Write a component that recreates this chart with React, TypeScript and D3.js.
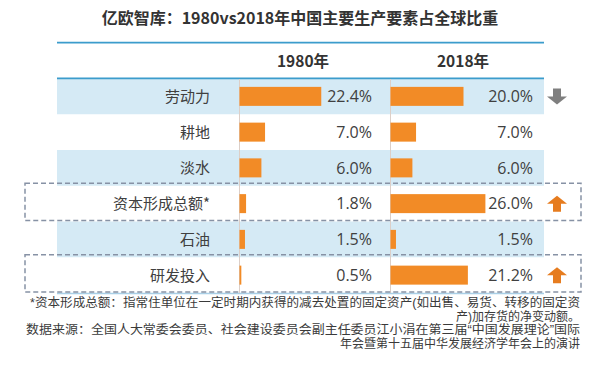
import React from "react";
import * as d3 from "d3";

// chart data
const categories = ["劳动力", "耕地", "淡水", "资本形成总额*", "石油", "研发投入"];
const years = ["1980年", "2018年"];
const share1980 = [22.4, 7.0, 6.0, 1.8, 1.5, 0.5];
const share2018 = [20.0, 7.0, 6.0, 26.0, 1.5, 21.2];
// change direction shown at the right of the row
const trend = ["down", "", "", "up", "", "up"];

const title = "亿欧智库：1980vs2018年中国主要生产要素占全球比重";
const notes = [
  "*资本形成总额：指常住单位在一定时期内获得的减去处置的固定资产(如出售、易货、转移的固定资",
  "产)加存货的净变动额。",
  "数据来源：全国人大常委会委员、社会建设委员会副主任委员江小涓在第三届“中国发展理论”国际",
  "年会暨第十五届中华发展经济学年会上的演讲",
];

const W = 600;
const H = 371;
const cjk = "'Noto Sans CJK SC', 'Microsoft YaHei', sans-serif";
const num = "'Open Sans', 'Noto Sans CJK SC', sans-serif";
// latin first keeps the line box compact, CJK glyphs fall back to Noto
const note = "'Liberation Sans', 'Noto Sans CJK SC', sans-serif";

const BLUE = "#3b9ccc";
const BAND = "#d5eaf5";
const ORANGE = "#f28b26";

function Arrow({ cx, cy, dir }: { cx: number; cy: number; dir: string }) {
  // block arrow, 20 wide, 16 tall
  const hw = 10, sw = 4, hh = 8, h = 16;
  const s = dir === "up" ? -1 : 1;
  const top = cy - (s * h) / 2;
  const pts = [
    [cx - sw, top],
    [cx + sw, top],
    [cx + sw, top + s * (h - hh)],
    [cx + hw, top + s * (h - hh)],
    [cx, top + s * h],
    [cx - hw, top + s * (h - hh)],
    [cx - sw, top + s * (h - hh)],
  ];
  return (
    <polygon
      points={pts.map((p) => p.join(",")).join(" ")}
      fill={dir === "up" ? "#e67c1f" : "#7f7f7f"}
    />
  );
}

export default function App() {
  const tableLeft = 57;
  const tableRight = 544;

  const y = d3.scaleBand<string>().domain(categories).range([78.5, 293]).padding(0);
  const rowH = y.bandwidth();

  // px per percent, same scale for both columns
  const x1980 = d3.scaleLinear().domain([0, 10]).range([239.5, 276]);
  const x2018 = d3.scaleLinear().domain([0, 10]).range([390.5, 427]);
  const cols = [
    { label: years[0], values: share1980, x: x1980, headX: 303, valX: 372 },
    { label: years[1], values: share2018, x: x2018, headX: 463, valX: 533 },
  ];

  const barH = 19;

  return (
    <svg
      width={W}
      height={H}
      style={{ position: "absolute", left: 0, top: 0, background: "#fff" }}
    >
      <text
        x={300}
        y={24}
        textAnchor="middle"
        fontFamily={cjk}
        fontWeight="bold"
        fontSize={16}
        fill="#333"
      >
        {title}
      </text>

      {/* bands */}
      {categories.map((c, i) =>
        i % 2 === 0 ? (
          <rect
            key={c}
            x={tableLeft}
            y={y(c)}
            width={tableRight - tableLeft}
            height={rowH}
            fill={BAND}
          />
        ) : null
      )}

      {/* header lines */}
      <line x1={tableLeft} x2={tableRight} y1={42.7} y2={42.7} stroke={BLUE} strokeWidth={1.8} />
      <line x1={tableLeft} x2={tableRight} y1={78.3} y2={78.3} stroke={BLUE} strokeWidth={1.8} />
      <line x1={tableLeft} x2={tableRight} y1={293.5} y2={293.5} stroke="#a9cfe6" strokeWidth={1.5} />

      {cols.map((col) => (
        <g key={col.label}>
          <text
            x={col.headX}
            y={67}
            textAnchor="middle"
            fontFamily={cjk}
            fontWeight="bold"
            fontSize={15.5}
            fill="#333"
          >
            {col.label}
          </text>
          <line
            x1={col.x(0)}
            x2={col.x(0)}
            y1={79}
            y2={293}
            stroke="#dccfc8"
            strokeWidth={1}
          />
          {categories.map((c, i) => (
            <g key={c}>
              <rect
                x={col.x(0)}
                y={(y(c) as number) + (rowH - barH) / 2}
                width={col.x(col.values[i]) - col.x(0)}
                height={barH}
                fill={ORANGE}
              />
              <text
                x={col.valX}
                y={(y(c) as number) + rowH / 2}
                dy="0.36em"
                textAnchor="end"
                fontFamily={num}
                fontSize={16}
                fill="#404040"
              >
                {col.values[i].toFixed(1) + "%"}
              </text>
            </g>
          ))}
        </g>
      ))}

      {/* row labels */}
      {categories.map((c) => (
        <text
          key={c}
          x={210}
          y={(y(c) as number) + rowH / 2}
          dy="0.36em"
          textAnchor="end"
          fontFamily={cjk}
          fontSize={15}
          fill="#404040"
        >
          {c}
        </text>
      ))}

      {/* highlighted rows and arrows */}
      {categories.map((c, i) =>
        trend[i] === "up" ? (
          <rect
            key={c}
            x={25}
            y={(y(c) as number) - 2.5}
            width={556}
            height={rowH + 1.5}
            fill="none"
            stroke="#8792a5"
            strokeWidth={1.5}
            strokeDasharray="5,3"
          />
        ) : null
      )}
      {categories.map((c, i) =>
        trend[i] ? (
          <Arrow key={c} cx={557} cy={(y(c) as number) + rowH / 2} dir={trend[i]} />
        ) : null
      )}

      {/* footnotes: one wrapped text block, right aligned */}
      <text textAnchor="end" fontFamily={note} fontSize={12} fill="#3a3a3a">
        {notes.map((n, i) => (
          <tspan
            key={i}
            x={580}
            y={307 + i * 13.5}
            textLength={i === 0 ? 550 : i === 2 ? 554 : undefined}
            lengthAdjust="spacingAndGlyphs"
          >
            {n}
          </tspan>
        ))}
      </text>
    </svg>
  );
}
